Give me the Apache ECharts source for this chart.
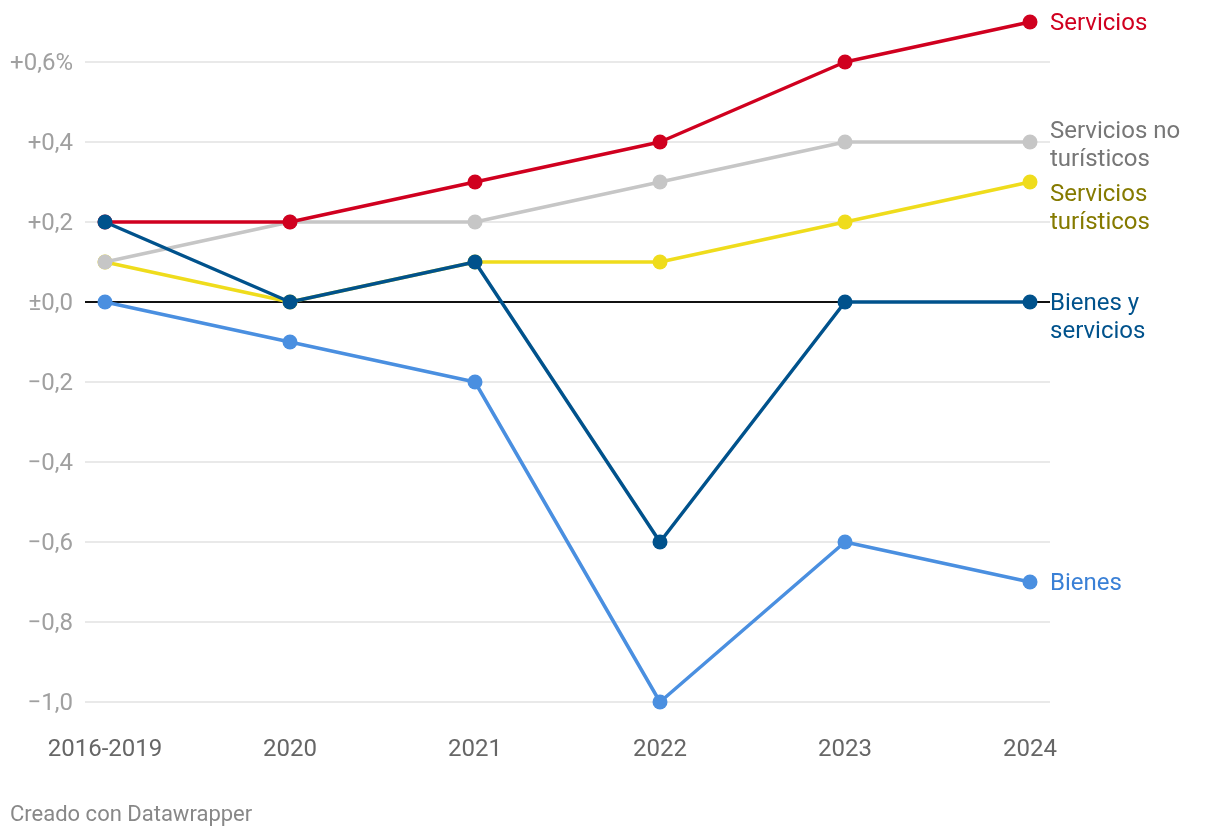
<!DOCTYPE html>
<html><head><meta charset="utf-8">
<script src="https://cdn.jsdelivr.net/npm/echarts@6/dist/echarts.min.js"></script>
<style>html,body{margin:0;padding:0;background:#fff;}#c{width:1220px;height:838px;}</style>
</head><body><div id="c"></div>
<script>
const categories = ['2016-2019', '2020', '2021', '2022', '2023', '2024'];
const bienes = [0.0, -0.1, -0.2, -1.0, -0.6, -0.7];
const serviciosTuristicos = [0.1, 0.0, 0.1, 0.1, 0.2, 0.3];
const serviciosNoTuristicos = [0.1, 0.2, 0.2, 0.3, 0.4, 0.4];
const servicios = [0.2, 0.2, 0.3, 0.4, 0.6, 0.7];
const bienesYServicios = [0.2, 0.0, 0.1, -0.6, 0.0, 0.0];
const yTicks = [-1.0, -0.8, -0.6, -0.4, -0.2, 0.0, 0.2, 0.4, 0.6];

function fmtY(v) {
  const r = Math.round(v * 10) / 10;
  const s = Math.abs(r).toFixed(1).replace('.', ',');
  let t;
  if (r === 0) t = '±' + s;
  else t = (r > 0 ? '+' : '\u2212') + s;
  if (r === 0.6) t += '%';
  return '{a|' + t + '}';
}

const FONT = 'Roboto';
function mk(name, label, data, lineColor, textColor, dy, z) {
  return {
    name: name, type: 'line', z: z,
    data: data.map((v, i) => [i, v]),
    clip: false,
    symbol: 'circle', symbolSize: 15,
    lineStyle: { color: lineColor, width: 3.5 },
    itemStyle: { color: lineColor },
    emphasis: { disabled: true },
    endLabel: {
      show: true, formatter: label, color: textColor, fontFamily: FONT,
      fontSize: 24, lineHeight: 28, distance: 20, offset: [0, dy]
    }
  };
}

const chart = echarts.init(document.getElementById('c'));
const series = [
  mk('Bienes', 'Bienes', bienes, '#4a8fe0', '#3a80d6', 2, 2),
  mk('Servicios turísticos', 'Servicios\nturísticos', serviciosTuristicos, '#efdc1c', '#857a00', 27, 3),
  mk('Servicios no turísticos', 'Servicios no\nturísticos', serviciosNoTuristicos, '#c6c6c6', '#777777', 4, 4),
  mk('Servicios', 'Servicios', servicios, '#d0001f', '#d0001f', 2, 5),
  mk('Bienes y servicios', 'Bienes y\nservicios', bienesYServicios, '#00528c', '#00528c', 16, 6)
];
series[0].markLine = {
  silent: true, symbol: 'none', z: 1,
  lineStyle: { color: '#111', width: 2, type: 'solid' },
  label: { show: false },
  data: [{ yAxis: 0 }]
};
chart.setOption({
  animation: false,
  grid: { left: 85, right: 170, top: 62, bottom: 136 },
  xAxis: {
    type: 'value', min: -0.108, max: 5.108,
    axisLine: { show: false }, axisTick: { show: false }, splitLine: { show: false },
    axisLabel: {
      customValues: [0, 1, 2, 3, 4, 5],
      formatter: v => categories[Math.round(v)],
      color: '#666', fontFamily: FONT, fontSize: 24, margin: 36
    }
  },
  yAxis: {
    type: 'value', min: -1.0, max: 0.6, interval: 0.2,
    axisLine: { show: false }, axisTick: { show: false },
    splitLine: { lineStyle: { color: '#e2e2e2', width: 1.5 } },
    axisLabel: {
      formatter: fmtY, margin: 12,
      rich: { a: { color: '#a0a0a0', fontFamily: FONT, fontSize: 24, padding: [4, 0, 0, 0] } }
    }
  },
  graphic: [{
    type: 'text', left: 10, top: 804,
    style: { text: 'Creado con Datawrapper', fill: '#888', font: '22px Roboto' }
  }],
  series: series
});
</script></body></html>
